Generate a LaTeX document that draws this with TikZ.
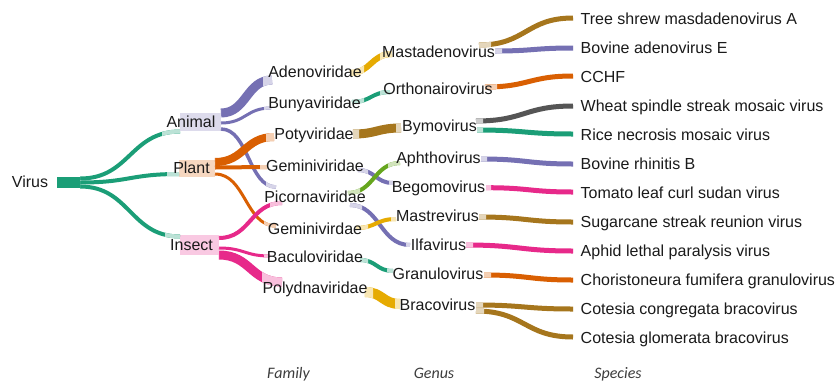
\documentclass[tikz,border=0pt]{standalone}
\usepackage{fontspec}
\setmainfont{Liberation Sans}
\newfontfamily\axisfont{Carlito}
\usetikzlibrary{calc}
\pgfdeclarelayer{bg}
\pgfsetlayers{bg,main}
\definecolor{cteal}{HTML}{1B9E77}
\definecolor{corange}{HTML}{D95F02}
\definecolor{cpurple}{HTML}{7570B3}
\definecolor{cpink}{HTML}{E7298A}
\definecolor{cgreen}{HTML}{66A61E}
\definecolor{cgold}{HTML}{E6AB02}
\definecolor{cbrown}{HTML}{A6761D}
\definecolor{cgray}{HTML}{555555}
\definecolor{txt}{HTML}{1A1A1A}
% #1 start, #2 end, #3 colour, #4 width, #5 start stub, #6 end stub
\newcommand\flow[6]{%
  \coordinate (fa) at #1;
  \coordinate (fb) at #2;
  \coordinate (fm) at ($(fa)!0.5!(fb)$);
  \draw[line width=#4pt, draw=#3] (fa) .. controls (fm |- fa) and (fm |- fb) .. (fb);
  \begin{scope}
    \clip ($(fa)+(-40,-40)$) rectangle ($(fa)+(#5,40)$);
    \draw[line width=#4pt, draw=#3!30] (fa) .. controls (fm |- fa) and (fm |- fb) .. (fb);
  \end{scope}
  \begin{scope}
    \clip ($(fb)+(-#6,-40)$) rectangle ($(fb)+(40,40)$);
    \draw[line width=#4pt, draw=#3!30] (fa) .. controls (fm |- fa) and (fm |- fb) .. (fb);
  \end{scope}}
\begin{document}
\begin{tikzpicture}[x=1pt,y=-1pt,
  lab/.style={font=\fontsize{16}{19}\selectfont, text=txt, inner sep=0pt, text height=11.5pt, text depth=0pt},
  axl/.style={font=\axisfont\itshape\fontsize{16}{19}\selectfont, text=txt!85, inner sep=0pt, text height=10.5pt, text depth=0pt}]
\useasboundingbox (0,0) rectangle (840,381);

% ---- level 0 and 1
\node[lab] (virus) at (30,182) {Virus};
\node[fill=cteal, minimum width=23pt, minimum height=11pt, inner sep=0pt] (vblock) at (68.5,182.5) {};
\node[lab] (animal) at (191,121.5) {Animal};
\node[lab] (plant) at (191.5,167.5) {Plant};
\node[lab] (insect) at (191.5,245) {Insect};

% ---- families
\node[lab] (adeno) at (315,72) {Adenoviridae};
\node[lab] (bunya) at (314.5,103) {Bunyaviridae};
\node[lab] (poty) at (314,134) {Potyviridae};
\node[lab] (gemA) at (315,166) {Geminiviridae};
\node[lab] (picorna) at (315,197) {Picornaviridae};
\node[lab] (gemB) at (315,229) {Geminivirdae};
\node[lab] (baculo) at (315,257) {Baculoviridae};
\node[lab] (polydna) at (315,288) {Polydnaviridae};

% ---- genera
\node[lab] (mastad) at (438.5,52) {Mastadenovirus};
\node[lab] (orthon) at (438,89) {Orthonairovirus};
\node[lab] (bymo) at (439.5,126) {Bymovirus};
\node[lab] (aphtho) at (438.5,158) {Aphthovirus};
\node[lab] (begomo) at (438.5,186.7) {Begomovirus};
\node[lab] (mastre) at (437.5,216) {Mastrevirus};
\node[lab] (ilfa) at (438.5,245) {Ilfavirus};
\node[lab] (granulo) at (438,273.5) {Granulovirus};
\node[lab] (braco) at (437.5,305) {Bracovirus};

% ---- species
\node[lab, anchor=west] (s1) at (580.5,19) {Tree shrew masdadenovirus A};
\node[lab, anchor=west] (s2) at (580.5,48) {Bovine adenovirus E};
\node[lab, anchor=west] (s3) at (580.5,77) {CCHF};
\node[lab, anchor=west] (s4) at (580.5,106) {Wheat spindle streak mosaic virus};
\node[lab, anchor=west] (s5) at (580.5,135) {Rice necrosis mosaic virus};
\node[lab, anchor=west] (s6) at (580.5,164) {Bovine rhinitis B};
\node[lab, anchor=west] (s7) at (580.5,193) {Tomato leaf curl sudan virus};
\node[lab, anchor=west] (s8) at (580.5,222) {Sugarcane streak reunion virus};
\node[lab, anchor=west] (s9) at (580.5,251) {Aphid lethal paralysis virus};
\node[lab, anchor=west] (s10) at (580.5,280) {Choristoneura fumifera granulovirus};
\node[lab, anchor=west] (s11) at (580.5,309) {Cotesia congregata bracovirus};
\node[lab, anchor=west] (s12) at (580.5,338) {Cotesia glomerata bracovirus};

% ---- axis titles
\node[axl] (tfam) at (288.5,373) {Family};
\node[axl] (tgen) at (434,373) {Genus};
\node[axl] (tspe) at (618,373) {Species};

\begin{pgfonlayer}{bg}
% pale node boxes
\fill[cpurple!25] ($(animal)+(-11,-8.5)$) rectangle ($(animal)+(30,9.5)$);
\fill[corange!25] ($(plant)+(-12.5,-7.5)$) rectangle ($(plant)+(23.5,9.5)$);
\fill[cpink!25] ($(insect)+(-11.5,-10)$) rectangle ($(insect)+(27.5,10)$);

% virus -> kingdoms
\flow{($(vblock.east)+(0,-4)$)}{($(animal)+(-11,10)$)}{cteal}{4}{0}{18}
\flow{($(vblock.east)+(0,0)$)}{($(plant)+(-12.5,6.5)$)}{cteal}{4}{0}{12}
\flow{($(vblock.east)+(0,4)$)}{($(insect)+(-11.5,-8.5)$)}{cteal}{4}{0}{15}

% animal
\flow{($(animal)+(30,-8.5)$)}{($(adeno)+(-43,8)$)}{cpurple}{9}{0}{9}
\flow{($(animal)+(30,1.5)$)}{($(bunya)+(-43.5,5)$)}{cpurple}{3}{0}{7}
\flow{($(animal)+(30,7.5)$)}{($(picorna)+(-39,-10)$)}{cpurple}{3.5}{0}{10}
% plant
\flow{($(plant)+(23.5,-5.5)$)}{($(poty)+(-40,3)$)}{corange}{8}{0}{8}
\flow{($(plant)+(23.5,0)$)}{($(gemA)+(-48,1)$)}{corange}{4}{0}{7}
\flow{($(plant)+(23.5,6.5)$)}{($(gemB)+(-39,-3)$)}{corange}{3}{0}{12}
% insect
\flow{($(insect)+(27.5,-7)$)}{($(picorna)+(-33,6)$)}{cpink}{4}{0}{12}
\flow{($(insect)+(27.5,3)$)}{($(baculo)+(-45,-1)$)}{cpink}{3}{0}{6}
\flow{($(insect)+(27.5,10)$)}{($(polydna)+(-33,-6)$)}{cpink}{9}{0}{20}

% family -> genus
\flow{($(adeno)+(35,1)$)}{($(mastad)+(-46.5,2)$)}{cgold}{6}{14}{12}
\flow{($(bunya)+(37.5,-1)$)}{($(orthon)+(-48,3)$)}{cteal}{4}{12}{10}
\flow{($(poty)+(39,0)$)}{($(bymo)+(-38.5,2)$)}{cbrown}{9}{6}{5}
\flow{($(gemA)+(43,4)$)}{($(begomo)+(-45.5,-3.7)$)}{cpurple}{4}{10}{4}
\flow{($(picorna)+(33,-4)$)}{($(aphtho)+(-38.5,5)$)}{cgreen}{4}{12}{12}
\flow{($(picorna)+(35,8)$)}{($(ilfa)+(-28.5,0)$)}{cpurple}{4}{12}{4}
\flow{($(gemB)+(41,-1)$)}{($(mastre)+(-41.5,3)$)}{cgold}{4}{12}{5}
\flow{($(baculo)+(45,3)$)}{($(granulo)+(-45,-2.5)$)}{cteal}{4}{8}{6}
\flow{($(polydna)+(50,4)$)}{($(braco)+(-37.5,-1)$)}{cgold}{10}{8}{5}

% genus -> species
\flow{($(mastad)+(40.5,-7)$)}{($(s1.west)+(-7.5,-1)$)}{cbrown}{5}{12}{0}
\flow{($(mastad)+(56.5,-1)$)}{($(s2.west)+(-7.5,0)$)}{cpurple}{5}{7}{0}
\flow{($(orthon)+(47,-2)$)}{($(s3.west)+(-7.5,-1)$)}{corange}{5}{12}{0}
\flow{($(bymo)+(36.5,-5)$)}{($(s4.west)+(-7.5,0)$)}{cgray}{5}{7}{0}
\flow{($(bymo)+(37.5,4)$)}{($(s5.west)+(-7.5,-1)$)}{cteal}{5}{6}{0}
\flow{($(aphtho)+(42.5,1)$)}{($(s6.west)+(-7.5,0)$)}{cpurple}{5}{6}{0}
\flow{($(begomo)+(47.5,1)$)}{($(s7.west)+(-7.5,-1)$)}{cpink}{5}{5}{0}
\flow{($(mastre)+(41.5,1)$)}{($(s8.west)+(-7.5,0)$)}{cbrown}{5}{7}{0}
\flow{($(ilfa)+(27.5,0)$)}{($(s9.west)+(-7.5,0)$)}{cpink}{5}{7}{0}
\flow{($(granulo)+(46,1.5)$)}{($(s10.west)+(-7.5,0)$)}{corange}{5}{7}{0}
\flow{($(braco)+(38.5,0)$)}{($(s11.west)+(-7.5,0)$)}{cbrown}{5}{7}{0}
\flow{($(braco)+(38.5,6)$)}{($(s12.west)+(-7.5,-1)$)}{cbrown}{5}{8}{0}
\end{pgfonlayer}
\end{tikzpicture}
\end{document}
